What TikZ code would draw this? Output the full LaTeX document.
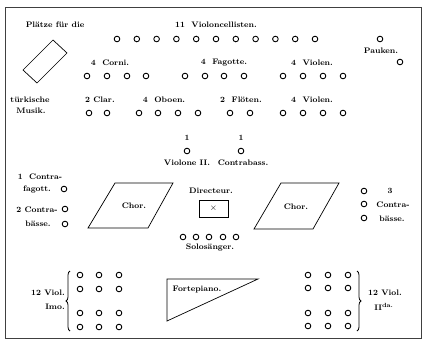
\documentclass[tikz,border=0pt]{standalone}
\usetikzlibrary{decorations.pathreplacing}
\begin{document}
\begin{tikzpicture}[x=1pt,y=-1pt,
  lbl/.style={font=\fontsize{8}{9}\selectfont\bfseries, inner sep=0pt, align=center},
  seat/.style={circle, draw, line width=0.9pt, minimum size=5.6pt, inner sep=0pt},
  shp/.style={draw, line width=0.7pt, line join=miter},
  frm/.style={draw=black!75, line width=1pt}]
\useasboundingbox (0,0) rectangle (423,343);
\draw[frm] (5,7) rectangle (421,338);

% top left
\node[lbl] (plaetze) at (55,25) {Plätze für die};
\draw[shp] (53,40) -- (67,53) -- (37,83) -- (23,70) -- cycle;
\node[lbl] (turk1) at (30,100) {türkische};
\node[lbl] (turk2) at (31,111) {Musik.};

% violoncelli
\node[lbl] (vc) at (216,25) {11\ \ Violoncellisten.};
\foreach \i/\x in {1/117,2/136.8,3/156.6,4/176.4,5/196.2,6/216,7/235.8,8/255.6,9/275.4,10/295.2,11/315}
  \node[seat] (vc\i) at (\x,39) {};

% Pauken
\node[seat] (pk1) at (380,39) {};
\node[lbl] (pauken) at (381,51) {Pauken.};
\node[seat] (pk2) at (400,62) {};

% row 2
\node[lbl] (corni) at (110,63) {4\ \ Corni.};
\foreach \i/\x in {1/87,2/107,3/127,4/146} \node[seat] (co\i) at (\x,76) {};
\node[lbl] (fag) at (224,63) {4\ \ Fagotte.};
\foreach \i/\x in {1/185,2/205,3/224,4/244} \node[seat] (fa\i) at (\x,76) {};
\node[lbl] (viola) at (312,63) {4\ \ Violen.};
\foreach \i/\x in {1/283,2/303,3/323,4/343} \node[seat] (va\i) at (\x,76) {};

% row 3
\node[lbl] (clar) at (100,100) {2 Clar.};
\foreach \i/\x in {1/89,2/107} \node[seat] (cl\i) at (\x,113) {};
\node[lbl] (oboen) at (164,100) {4\ \ Oboen.};
\foreach \i/\x in {1/139,2/158,3/178,4/198} \node[seat] (ob\i) at (\x,113) {};
\node[lbl] (floet) at (241,100) {2\ \ Flöten.};
\foreach \i/\x in {1/230,2/250} \node[seat] (fl\i) at (\x,113) {};
\node[lbl] (violb) at (312,100) {4\ \ Violen.};
\foreach \i/\x in {1/283,2/303,3/323,4/343} \node[seat] (vb\i) at (\x,113) {};

% violone / contrabass
\node[lbl] (one1) at (187,138) {1};
\node[seat] (vln) at (187,151) {};
\node[lbl] (violone) at (187,163) {Violone II.};
\node[lbl] (one2) at (241,138) {1};
\node[seat] (cb) at (241,151) {};
\node[lbl] (contrab) at (243,163) {Contrabass.};

% left side
\node[lbl] (cf1) at (40,177) {1\ \ Contra-};
\node[lbl] (cf2) at (37,190) {fagott.};
\node[seat] (cfs) at (64,189) {};
\node[lbl] (cl2a) at (37,210) {2 Contra-};
\node[lbl] (cl2b) at (38,224) {bässe.};
\node[seat] (cls1) at (65,209) {};
\node[seat] (cls2) at (65,224) {};

% Chor left
\draw[shp] (115,183) -- (173,183) -- (148,228) -- (88,228) -- cycle;
\node[lbl] (chor1) at (134,206) {Chor.};

% Directeur
\node[lbl] (dir) at (211,191) {Directeur.};
\node[shp, minimum width=29pt, minimum height=17pt, inner sep=0pt] (dirbox) at (213.5,208.5) {\fontsize{9}{9}\selectfont$\times$};
\foreach \i/\x in {1/183,2/196,3/209,4/223,5/236} \node[seat] (so\i) at (\x,237) {};
\node[lbl] (solo) at (210,248) {Solosänger.};

% Chor right
\draw[shp] (281,183) -- (339,183) -- (313,229) -- (254,229) -- cycle;
\node[lbl] (chor2) at (296,207) {Chor.};

% right side
\node[seat] (cr1) at (364,191) {};
\node[seat] (cr2) at (364,204) {};
\node[seat] (cr3) at (364,218) {};
\node[lbl] (cr3t) at (390,191) {3};
\node[lbl] (cr4t) at (393,205) {Contra-};
\node[lbl] (cr5t) at (392,219) {bässe.};

% violins I
\foreach \r/\y in {1/275,2/289,3/313,4/327}
  \foreach \c/\x in {1/80,2/99,3/119}
    \node[seat] (vi\r\c) at (\x,\y) {};
\draw[line width=0.8pt, decorate, decoration={brace, amplitude=4pt}] (70,331) -- (70,271);
\node[lbl] (v1a) at (48,293) {12 Viol.};
\node[lbl] (v1b) at (55,307) {Imo.};

% violins II
\foreach \r/\y in {1/275,2/288,3/313,4/326}
  \foreach \c/\x in {1/308,2/328,3/348}
    \node[seat] (vii\r\c) at (\x,\y) {};
\draw[line width=0.8pt, decorate, decoration={brace, amplitude=4pt}] (357,271) -- (357,331);
\node[lbl] (v2a) at (385,293) {12 Viol.};
\node[lbl] (v2b) at (384,307) {II\textsuperscript{da.}};

% Fortepiano
\draw[shp] (167,279) -- (258,279) -- (167,321) -- cycle;
\node[lbl] (fp) at (197,290) {Fortepiano.};
\end{tikzpicture}
\end{document}
